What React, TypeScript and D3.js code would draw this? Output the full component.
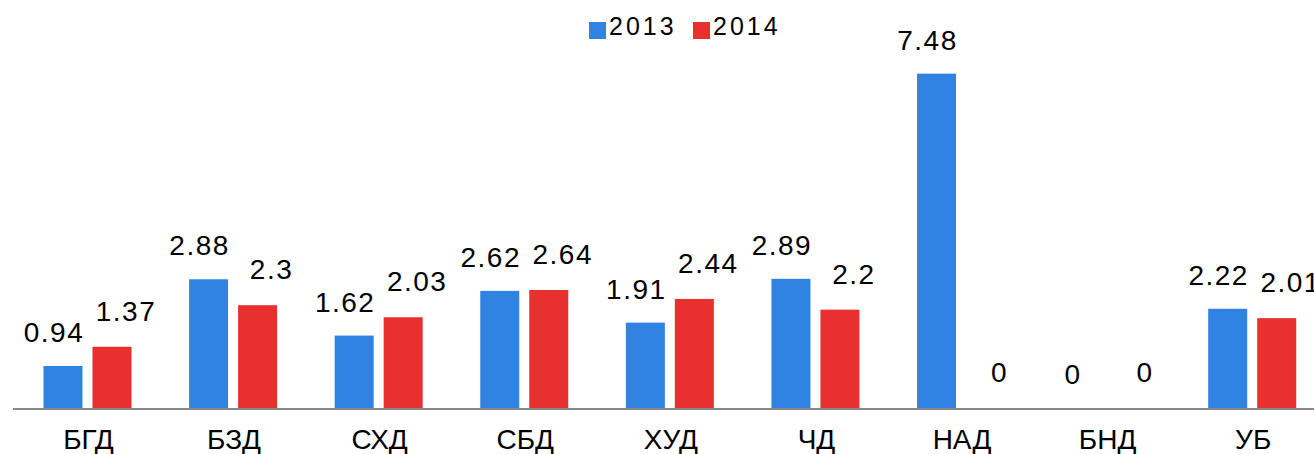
import React, { useEffect, useRef } from 'react';
import * as d3 from 'd3';

const categories = ['БГД', 'БЗД', 'СХД', 'СБД', 'ХУД', 'ЧД', 'НАД', 'БНД', 'УБ'];
const series = ['2013', '2014'];
const values2013 = [0.94, 2.88, 1.62, 2.62, 1.91, 2.89, 7.48, 0, 2.22];
const values2014 = [1.37, 2.3, 2.03, 2.64, 2.44, 2.2, 0, 0, 2.01];
const colors = ['#3083e3', '#e8302f'];

const ChartSvg: React.FC = () => {
  const svgRef = useRef<SVGSVGElement>(null);

  useEffect(() => {
    if (!svgRef.current) return;
    d3.select(svgRef.current).selectAll('*').remove();

    const width = 1314;
    const height = 454;
    const baseline = 408;

    const svg = d3.select(svgRef.current)
      .attr('width', width)
      .attr('height', height)
      .style('display', 'block')
      .style('background', '#fff');

    // category bands run a bit past the right edge, like the original
    const x0 = d3.scaleBand<string>()
      .domain(categories)
      .range([14.7, 1325])
      .padding(0);

    const step = x0.bandwidth();
    const x1 = d3.scaleBand<string>()
      .domain(series)
      .range([step / 2 - 44, step / 2 + 44])
      .paddingInner(0.204);

    const y = d3.scaleLinear()
      .domain([0, 8])
      .range([baseline, baseline - 8 * 44.7]);

    const rows = categories.map((c, i) => ({
      cat: c,
      vals: [values2013[i], values2014[i]],
    }));

    const groups = svg.selectAll('g.grp')
      .data(rows)
      .join('g')
      .attr('class', 'grp')
      .attr('transform', d => `translate(${x0(d.cat)},0)`);

    groups.selectAll('rect')
      .data(d => d.vals.map((v, j) => ({ v, s: series[j], j })))
      .join('rect')
      .attr('x', d => x1(d.s)!)
      .attr('width', x1.bandwidth())
      .attr('y', d => y(d.v))
      .attr('height', d => baseline - y(d.v))
      .attr('fill', d => colors[d.j]);

    // value labels, blue pushed left, red pushed right
    groups.selectAll('text.val')
      .data(d => d.vals.map((v, j) => ({ v, s: series[j], j })))
      .join('text')
      .attr('class', 'val')
      .attr('x', d => x1(d.s)! + x1.bandwidth() / 2 + (d.j === 0 ? -9 : 14))
      .attr('y', d => y(d.v) - (d.j === 0 ? 24 : 26))
      .attr('text-anchor', 'middle')
      .style('font-family', '"Liberation Sans", Arial, sans-serif')
      .style('font-size', '28px')
      .style('letter-spacing', '1.5px')
      .style('fill', '#000')
      .text(d => String(d.v));

    // axis line
    svg.append('line')
      .attr('x1', 13)
      .attr('x2', width)
      .attr('y1', baseline + 1)
      .attr('y2', baseline + 1)
      .attr('stroke', '#888888')
      .attr('stroke-width', 2);

    // category labels
    svg.selectAll('text.cat')
      .data(categories)
      .join('text')
      .attr('class', 'cat')
      .attr('x', d => x0(d)! + step / 2 + 1)
      .attr('y', 449)
      .attr('text-anchor', 'middle')
      .style('font-family', '"Liberation Sans", Arial, sans-serif')
      .style('font-size', '28px')
      .style('fill', '#000')
      .text(d => d);

    // legend
    const legend = svg.append('g').attr('transform', 'translate(589,22)');
    series.forEach((s, i) => {
      const g = legend.append('g').attr('transform', `translate(${i * 104},0)`);
      g.append('rect')
        .attr('width', 17)
        .attr('height', 17)
        .attr('fill', colors[i]);
      g.append('text')
        .attr('x', 20)
        .attr('y', 13)
        .style('font-family', '"Liberation Sans", Arial, sans-serif')
        .style('font-size', '25px')
        .style('letter-spacing', '3px')
        .style('fill', '#000')
        .text(s);
    });
  }, []);

  return <svg ref={svgRef}></svg>;
};

const App: React.FC = () => {
  return (
    <div style={{ position: 'absolute', left: 0, top: 0, width: 1314, height: 454, overflow: 'hidden' }}>
      <ChartSvg />
    </div>
  );
};

export default App;
